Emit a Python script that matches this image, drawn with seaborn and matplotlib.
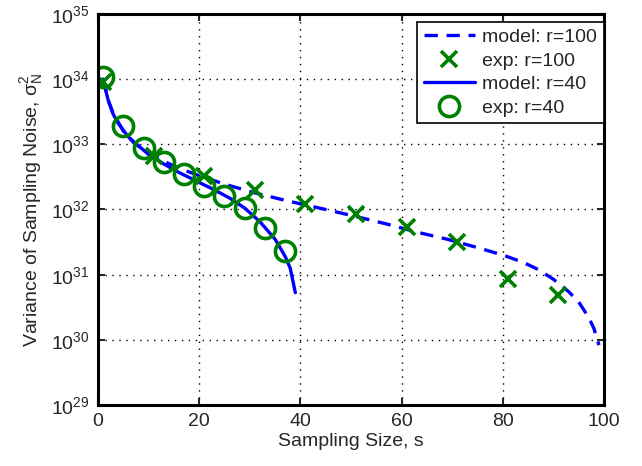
import numpy as np
import pandas as pd
import matplotlib
matplotlib.use("Agg")
import matplotlib.pyplot as plt
import seaborn as sns
from matplotlib.lines import Line2D

# ---- data ----
model100_s = [1, 2, 3, 5, 7, 10, 13, 16, 20, 25, 31, 37, 45, 51, 57, 63, 69, 75, 80, 84, 87, 90, 93, 95, 97, 98, 99]
model100_v = [1.0e34, 4.8e33, 3.0e33, 1.6e33, 1.07e33, 7.2e32, 5.5e32, 4.3e32, 3.3e32, 2.45e32, 1.8e32,
              1.38e32, 1.0e32, 7.8e31, 6.0e31, 4.5e31, 3.5e31, 2.6e31, 2.0e31, 1.55e31, 1.2e31, 8.5e30,
              5.5e30, 3.8e30, 2.2e30, 1.5e30, 8.3e29]
exp100_s = [1, 11, 21, 31, 41, 51, 61, 71, 81, 91]
exp100_v = [9.0e33, 6.6e32, 3.3e32, 2.0e32, 1.2e32, 8.5e31, 5.4e31, 3.2e31, 8.5e30, 4.8e30]
model40_s = [1, 2, 3, 4, 6, 8, 10, 13, 16, 20, 23, 26, 29, 32, 35, 37, 38, 39]
model40_v = [1.0e34, 4.8e33, 2.9e33, 2.1e33, 1.3e33, 9.5e32, 7.0e32, 5.0e32, 3.7e32, 2.6e32, 2.0e32,
             1.5e32, 1.05e32, 6.5e31, 3.5e31, 1.9e31, 1.25e31, 5.3e30]
exp40_s = [1, 5, 9, 13, 17, 21, 25, 29, 33, 37]
exp40_v = [1.07e34, 1.9e33, 8.9e32, 5.4e32, 3.5e32, 2.3e32, 1.6e32, 1.07e32, 5.2e31, 2.3e31]
labels = ["model: r=100", "exp: r=100", "model: r=40", "exp: r=40"]

sns.set_style("ticks")
plt.rcParams["font.family"] = ["Liberation Sans", "DejaVu Sans"]
plt.rcParams["mathtext.fontset"] = "custom"
plt.rcParams["mathtext.rm"] = "Liberation Sans"
plt.rcParams["mathtext.it"] = "Liberation Sans:italic"
plt.rcParams["mathtext.default"] = "regular"

blue = "#0000ff"
green = "#008000"
FS = 14

fig = plt.figure(figsize=(6.42, 4.66), dpi=100)
ax = fig.add_axes([0.1526, 0.1309, 0.7882, 0.8391])

sns.lineplot(x=model100_s, y=model100_v, ax=ax, color=blue, lw=2.4, estimator=None, sort=False,
             dashes=False, linestyle=(0, (4, 2.6)))
sns.lineplot(x=model40_s, y=model40_v, ax=ax, color=blue, lw=2.4, estimator=None, sort=False)
sns.lineplot(x=exp100_s, y=exp100_v, ax=ax, estimator=None, sort=False, linestyle="none",
             marker="x", markersize=11, markeredgewidth=2.6, color=green, markeredgecolor=green)
sns.lineplot(x=exp40_s, y=exp40_v, ax=ax, estimator=None, sort=False, linestyle="none",
             marker="o", markersize=14.5, markeredgewidth=2.6, markerfacecolor="none",
             markeredgecolor=green, color=green)

ax.set_yscale("log")
ax.set_xlim(0, 100)
ax.set_ylim(1e29, 1e35)
ax.set_xticks([0, 20, 40, 60, 80, 100])
ax.set_yticks([1e29, 1e30, 1e31, 1e32, 1e33, 1e34, 1e35])
ax.yaxis.set_minor_locator(matplotlib.ticker.NullLocator())
ax.grid(True, which="major", color="black", linestyle=(0, (1, 4)), linewidth=1.0)
ax.set_axisbelow(True)
ax.tick_params(direction="in", length=5, width=1.5, top=True, right=True, labelsize=FS, pad=6)
for sp in ax.spines.values():
    sp.set_linewidth(2.2)
    sp.set_color("black")
    sp.set_visible(True)

ax.set_xlabel("Sampling Size, s", fontsize=FS, labelpad=2)
ax.set_ylabel(r"Variance of Sampling Noise, $\sigma^2_N$", fontsize=FS, labelpad=4)

handles = [
    Line2D([], [], color=blue, lw=2.4, linestyle=(0, (4, 2.6))),
    Line2D([], [], color=green, linestyle="none", marker="x", markersize=11, markeredgewidth=2.6),
    Line2D([], [], color=blue, lw=2.4),
    Line2D([], [], color=green, linestyle="none", marker="o", markersize=14.5, markeredgewidth=2.6,
           markerfacecolor="none"),
]
leg = ax.legend(handles, labels, loc="upper right", bbox_to_anchor=(1.0, 0.98), fontsize=FS,
                frameon=True, fancybox=False, edgecolor="black", framealpha=1, borderpad=0.35,
                labelspacing=0.3, handlelength=2.6, handletextpad=0.4, borderaxespad=0.0)
leg.get_frame().set_linewidth(1.2)

fig.savefig("out.png", dpi=100)
